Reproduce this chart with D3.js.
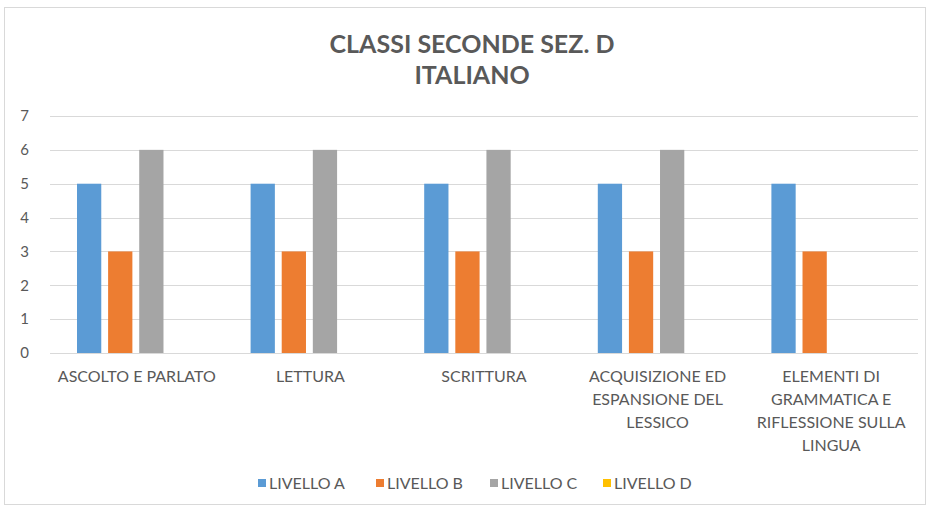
<!DOCTYPE html>
<html>
<head>
<meta charset="utf-8">
<script src="https://cdn.jsdelivr.net/npm/d3@7"></script>
<style>
  body { margin: 0; background: #fff; }
  svg { display: block; font-family: Lato, "Noto Sans", sans-serif; }
</style>
</head>
<body>
<svg id="chart" width="930" height="511"></svg>
<script>
// categories (line breaks = how the labels wrap under the axis)
const categories = [
  "ASCOLTO E PARLATO",
  "LETTURA",
  "SCRITTURA",
  "ACQUISIZIONE ED\nESPANSIONE DEL\nLESSICO",
  "ELEMENTI DI\nGRAMMATICA E\nRIFLESSIONE SULLA\nLINGUA"
];
const seriesNames = ["LIVELLO A", "LIVELLO B", "LIVELLO C", "LIVELLO D"];
const livelloA = [5, 5, 5, 5, 5];
const livelloB = [3, 3, 3, 3, 3];
const livelloC = [6, 6, 6, 6, 0];
const livelloD = [0, 0, 0, 0, 0];
const yTicks = [0, 1, 2, 3, 4, 5, 6, 7];

const COLORS = ["#5B9BD5", "#ED7D31", "#A5A5A5", "#FFC000"];
const TEXT = "#595959";

var svg = d3.select("#chart");
var W = 930, H = 511;

// chart frame
svg.append("rect")
  .attr("x", 4.5).attr("y", 7.5)
  .attr("width", 921).attr("height", 497)
  .attr("fill", "#fff")
  .attr("stroke", "#d9d9d9");

var margin = { left: 50, right: 12, top: 116, bottom: 158 };
var x0 = d3.scaleBand()
  .domain(categories)
  .range([margin.left, W - margin.right])
  .paddingInner(0)
  .paddingOuter(0);

var x1 = d3.scaleBand()
  .domain(seriesNames)
  .range([0, x0.bandwidth()])
  .paddingInner(0.22)
  .paddingOuter(0.9);

var y = d3.scaleLinear()
  .domain([0, 7])
  .range([H - margin.bottom, margin.top]);

// grid lines
svg.append("g")
  .selectAll("line")
  .data(yTicks)
  .enter().append("line")
    .attr("x1", margin.left).attr("x2", W - margin.right)
    .attr("y1", function(d) { return Math.round(y(d)) + 0.5; })
    .attr("y2", function(d) { return Math.round(y(d)) + 0.5; })
    .attr("stroke", "#d9d9d9")
    .attr("stroke-width", 1);

// y tick labels
svg.append("g")
  .selectAll("text")
  .data(yTicks)
  .enter().append("text")
    .attr("x", 29)
    .attr("y", function(d) { return y(d); })
    .attr("dy", "0.35em")
    .attr("text-anchor", "end")
    .attr("fill", TEXT)
    .style("font-size", "15px")
    .text(function(d) { return d; });

// bars
var series = [livelloA, livelloB, livelloC, livelloD];
var rows = categories.map(function(c, i) {
  return seriesNames.map(function(s, j) { return { cat: c, key: s, value: series[j][i], color: COLORS[j] }; });
});

svg.append("g")
  .selectAll("g")
  .data(rows)
  .enter().append("g")
    .attr("transform", function(d) { return "translate(" + x0(d[0].cat) + ",0)"; })
  .selectAll("rect")
  .data(function(d) { return d; })
  .enter().append("rect")
    .attr("x", function(d) { return x1(d.key) - 1; })
    .attr("width", x1.bandwidth())
    .attr("y", function(d) { return y(d.value); })
    .attr("height", function(d) { return y(0) - y(d.value); })
    .attr("fill", function(d) { return d.color; });

// category labels (wrapped)
var lab = svg.append("g")
  .selectAll("text")
  .data(categories)
  .enter().append("text")
    .attr("text-anchor", "middle")
    .attr("fill", TEXT)
    .style("font-size", "16px");
lab.each(function(d) {
  var t = d3.select(this);
  var cx = x0(d) + x0.bandwidth() / 2;
  d.split("\n").forEach(function(line, i) {
    t.append("tspan")
      .attr("x", cx)
      .attr("y", 382 + i * 23)
      .text(line);
  });
});

// title
var title = svg.append("text")
  .attr("text-anchor", "middle")
  .attr("fill", TEXT)
  .style("font-size", "25px")
  .style("font-weight", "bold");
title.append("tspan").attr("x", 472).attr("y", 53).text("CLASSI SECONDE SEZ. D");
title.append("tspan").attr("x", 472).attr("y", 84).text("ITALIANO");

// legend
var legendX = [258, 376, 490, 603];
var legend = svg.append("g")
  .selectAll("g")
  .data(seriesNames)
  .enter().append("g")
    .attr("transform", function(d, i) { return "translate(" + legendX[i] + ",483)"; });
legend.append("rect")
  .attr("x", 0).attr("y", -4)
  .attr("width", 8).attr("height", 8)
  .attr("fill", function(d, i) { return COLORS[i]; });
legend.append("text")
  .attr("x", 11)
  .attr("dy", "0.35em")
  .attr("fill", TEXT)
  .style("font-size", "16px")
  .text(function(d) { return d; });
</script>
</body>
</html>
